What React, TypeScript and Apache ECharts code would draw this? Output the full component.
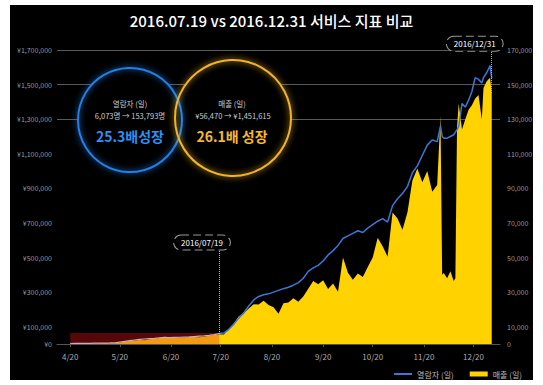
import React, { useEffect, useRef } from 'react';
import * as echarts from 'echarts';

const titleText = '2016.07.19 vs 2016.12.31 서비스 지표 비교';

const dates = [
  '2016-04-20', '2016-04-23', '2016-04-26', '2016-04-29', '2016-05-02', '2016-05-05', '2016-05-08', '2016-05-11',
  '2016-05-14', '2016-05-17', '2016-05-20', '2016-05-23', '2016-05-26', '2016-05-29', '2016-06-01', '2016-06-04',
  '2016-06-07', '2016-06-10', '2016-06-13', '2016-06-16', '2016-06-19', '2016-06-22', '2016-06-25', '2016-06-28',
  '2016-07-01', '2016-07-04', '2016-07-07', '2016-07-10', '2016-07-13', '2016-07-16', '2016-07-19',
  '2016-07-22', '2016-07-25', '2016-07-28', '2016-07-31', '2016-08-03', '2016-08-06', '2016-08-09', '2016-08-12',
  '2016-08-15', '2016-08-18', '2016-08-21', '2016-08-24', '2016-08-27', '2016-08-30', '2016-09-02', '2016-09-05',
  '2016-09-08', '2016-09-11', '2016-09-14', '2016-09-17', '2016-09-20', '2016-09-23', '2016-09-26', '2016-09-29',
  '2016-10-02', '2016-10-05', '2016-10-08', '2016-10-11', '2016-10-14', '2016-10-17', '2016-10-20', '2016-10-23',
  '2016-10-26', '2016-10-29', '2016-11-01', '2016-11-04', '2016-11-07', '2016-11-10', '2016-11-13', '2016-11-16',
  '2016-11-19', '2016-11-22', '2016-11-25', '2016-11-28',
  '2016-11-30', '2016-12-01', '2016-12-02', '2016-12-04', '2016-12-06', '2016-12-08', '2016-12-09', '2016-12-10',
  '2016-12-11', '2016-12-13', '2016-12-15', '2016-12-17', '2016-12-19', '2016-12-21', '2016-12-23', '2016-12-25',
  '2016-12-26', '2016-12-28', '2016-12-30', '2016-12-31',
];

const users = [
  300, 320, 350, 380, 400, 450, 480, 520, 600, 700, 1100, 1500, 1900, 2300, 2700, 2900,
  3100, 3300, 3600, 3800, 3700, 3800, 3900, 4000, 4100, 4300, 4500, 4700, 5000, 5400, 6073,
  6300, 8500, 11500, 15000, 18000, 22000, 25500, 27500, 28500, 29000, 30000, 31000, 32000, 32800, 34000,
  35500, 38000, 42000, 44000, 45500, 48000, 51500, 54000, 57000, 61000, 62500, 64000, 65500, 64500, 67000,
  69000, 71000, 72500, 70500, 80000, 84000, 87000, 91000, 99000, 103000, 109000, 115000, 118000, 117000,
  126000, 120000, 119000, 119000, 120000, 121000, 122500, 124000, 125500, 139000, 137000, 141000, 146000,
  154000, 153000, 151000, 154000, 157000, 161000, 153793,
];

const revenue = [
  2500, 2800, 2600, 3000, 3200, 3100, 3500, 4000, 3800, 4500, 7000, 14000, 17000, 20000, 23000, 22000,
  28000, 30000, 34000, 42000, 36000, 37000, 38000, 36000, 41000, 40000, 39000, 42000, 47000, 52000, 56470,
  55000, 88000, 118000, 160000, 178000, 205000, 230000, 228000, 250000, 225000, 212000, 175000, 235000, 240000,
  265000, 245000, 275000, 320000, 365000, 345000, 368000, 318000, 350000, 302000, 500000, 412000, 372000,
  408000, 388000, 445000, 500000, 615000, 565000, 505000, 760000, 725000, 660000, 760000, 945000, 1015000,
  935000, 1000000, 880000, 920000,
  1320000, 400000, 410000, 380000, 420000, 365000, 380000, 1250000, 1390000, 1240000, 1300000, 1355000,
  1380000, 1420000, 1440000, 1300000, 1480000, 1520000, 1540000, 1451615,
];

const splitDate = '2016-07-19';
const endDate = '2016-12-31';
const markAreaStart = '2016-04-20';
const xMinDate = '2016-04-12';
const xMaxDate = '2017-01-05';
const xTickDates = [
  '2016-04-20', '2016-05-20', '2016-06-20', '2016-07-20', '2016-08-20',
  '2016-09-20', '2016-10-20', '2016-11-20', '2016-12-20',
];
const leftLabelValues = [0, 100000, 300000, 500000, 700000, 900000, 1100000, 1300000, 1500000, 1700000];
const rightLabelValues = [0, 10000, 30000, 50000, 70000, 90000, 110000, 130000, 150000, 170000];
const gridLineValues = [1300000, 1500000, 1700000];

const t = (s: string) => {
  const [y, m, d] = s.split('-').map(Number);
  return new Date(y, m - 1, d).getTime();
};

const FONT = '"Noto Sans CJK KR", "Noto Sans", sans-serif';

export default function App() {
  const ref = useRef<HTMLDivElement>(null);
  useEffect(() => {
    if (!ref.current) return;
    const chart = echarts.init(ref.current, undefined, { renderer: 'svg' });
    const splitT = t(splitDate);
    const pts = (vals: number[]) => dates.map((d, i) => [t(d), vals[i]] as [number, number]);
    const before = (vals: number[]) => pts(vals).filter((p) => p[0] <= splitT);
    const after = (vals: number[]) => pts(vals).filter((p) => p[0] >= splitT);

    const splitColors: string[] = [];
    for (let i = 0; i <= 17; i++) {
      splitColors.push(gridLineValues.includes(i * 100000) ? '#5a5a5a' : 'rgba(0,0,0,0)');
    }
    const xTicks = xTickDates.map(t);

    const option: any = {
      animation: false,
      backgroundColor: '#ffffff',
      textStyle: { fontFamily: FONT },
      title: {
        text: titleText,
        left: 'center',
        top: 8,
        textStyle: { color: '#ffffff', fontSize: 15, fontWeight: 500, fontFamily: FONT },
      },
      grid: { left: 57, right: 43, top: 50, bottom: 41, containLabel: false },
      legend: {
        data: [
          { name: '열람자 (일)', itemStyle: { opacity: 0 } },
          { name: '매출 (일)', icon: 'rect' },
        ],
        right: 16,
        bottom: 2,
        itemWidth: 18,
        itemHeight: 5,
        itemGap: 16,
        textStyle: { color: '#bbbbbb', fontSize: 8, fontFamily: FONT },
      },
      xAxis: {
        type: 'value',
        min: t(xMinDate),
        max: t(xMaxDate),
        axisLine: { lineStyle: { color: '#555555', width: 1 } },
        axisTick: { show: true, customValues: xTicks, length: 3, lineStyle: { color: '#555555' } },
        axisLabel: {
          customValues: xTicks,
          color: '#aaaaaa',
          fontSize: 8,
          margin: 8,
          formatter: (v: number) => {
            const d = new Date(v);
            return d.getMonth() + 1 + '/' + d.getDate();
          },
        },
        splitLine: { show: false },
      },
      yAxis: [
        {
          type: 'value',
          min: 0,
          max: 1700000,
          interval: 100000,
          position: 'left',
          axisLine: { show: false },
          axisTick: { show: false },
          axisLabel: {
            color: '#999999',
            fontSize: 7,
            margin: 5,
            formatter: (v: number) =>
              leftLabelValues.includes(v) ? '¥' + v.toLocaleString('en-US') : '',
          },
          splitLine: { show: true, lineStyle: { color: splitColors, width: 1 } },
        },
        {
          type: 'value',
          min: 0,
          max: 170000,
          interval: 10000,
          position: 'right',
          axisLine: { show: false },
          axisTick: { show: false },
          axisLabel: {
            color: '#999999',
            fontSize: 7,
            margin: 7,
            formatter: (v: number) => (rightLabelValues.includes(v) ? v.toLocaleString('en-US') : ''),
          },
          splitLine: { show: false },
        },
      ],
      series: [
        {
          name: 'area-holder',
          type: 'line',
          yAxisIndex: 1,
          data: before(users),
          symbol: 'none',
          silent: true,
          z: 1,
          lineStyle: { opacity: 0, width: 0 },
          markArea: {
            silent: true,
            itemStyle: { color: '#560707' },
            data: [[{ coord: [t(markAreaStart), 0] }, { coord: [splitT, 6300] }]],
          },
        },
        {
          name: '매출-before',
          type: 'line',
          yAxisIndex: 0,
          data: before(revenue),
          symbol: 'none',
          z: 2,
          itemStyle: { color: '#f39a10' },
          lineStyle: { width: 0, opacity: 0 },
          areaStyle: { color: '#f39a10', opacity: 1 },
        },
        {
          name: '매출 (일)',
          type: 'line',
          yAxisIndex: 0,
          data: after(revenue),
          symbol: 'none',
          z: 2,
          itemStyle: { color: '#ffd200' },
          lineStyle: { width: 0, opacity: 0 },
          areaStyle: { color: '#ffd200', opacity: 1 },
          markLine: {
            silent: true,
            symbol: ['none', 'none'],
            lineStyle: { type: 'dotted', color: '#bbbbbb', width: 1 },
            label: {
              show: true,
              position: 'end',
              formatter: '{b}',
              distance: 1,
              offset: [-17, 0],
              color: '#ffffff',
              fontSize: 8,
              fontFamily: FONT,
              backgroundColor: '#000000',
              borderColor: '#999999',
              borderType: 'dashed',
              borderWidth: 1,
              borderRadius: 8,
              padding: [3, 7],
            },
            data: [
              [{ name: '2016/07/19', coord: [splitT, 0] }, { coord: [splitT, 540000] }],
              [{ name: '2016/12/31', coord: [t(endDate), 1451615] }, { coord: [t(endDate), 1690000] }],
            ],
          },
        },
        {
          name: '열람자-before',
          type: 'line',
          yAxisIndex: 1,
          data: before(users),
          symbol: 'none',
          z: 4,
          itemStyle: { color: '#c6aebd' },
          lineStyle: { width: 1.2, color: '#c6aebd' },
        },
        {
          name: '열람자 (일)',
          type: 'line',
          yAxisIndex: 1,
          data: after(users),
          symbol: 'none',
          z: 4,
          itemStyle: { color: '#3a78d8' },
          lineStyle: { width: 1.5, color: '#3a78d8' },
        },
      ],
      graphic: {
        elements: [
          { type: 'rect', z: -10, silent: true, shape: { x: 10, y: 5, width: 523, height: 375 }, style: { fill: '#000000' } },
          { type: 'circle', z: 10, shape: { cx: 130, cy: 120, r: 52 }, style: { fill: '#000000' } },
          { type: 'circle', z: 10, shape: { cx: 233, cy: 118, r: 58 }, style: { fill: '#000000' } },
          {
            type: 'circle', z: 11, shape: { cx: 130, cy: 120, r: 52 },
            style: { fill: 'rgba(0,0,0,0)', stroke: '#2180ea', lineWidth: 2, shadowBlur: 6, shadowColor: '#2180ea' },
          },
          {
            type: 'circle', z: 11, shape: { cx: 233, cy: 118, r: 58 },
            style: { fill: 'rgba(0,0,0,0)', stroke: '#f2b428', lineWidth: 2, shadowBlur: 6, shadowColor: '#f2b428' },
          },
          { type: 'text', z: 12, style: { text: '열람자 (일)', x: 130, y: 103, fill: '#cccccc', font: '7.5px ' + FONT, textAlign: 'center', textVerticalAlign: 'middle' } },
          { type: 'text', z: 12, style: { text: '6,073명 → 153,793명', x: 130, y: 115, fill: '#cccccc', font: '7.5px ' + FONT, textAlign: 'center', textVerticalAlign: 'middle' } },
          { type: 'text', z: 12, style: { text: '25.3배성장', x: 130, y: 136, fill: '#2f8ff2', font: 'bold 14px ' + FONT, textAlign: 'center', textVerticalAlign: 'middle' } },
          { type: 'text', z: 12, style: { text: '매출 (일)', x: 232, y: 103, fill: '#cccccc', font: '7.5px ' + FONT, textAlign: 'center', textVerticalAlign: 'middle' } },
          { type: 'text', z: 12, style: { text: '¥56,470 → ¥1,451,615', x: 233, y: 115, fill: '#cccccc', font: '7.5px ' + FONT, textAlign: 'center', textVerticalAlign: 'middle' } },
          { type: 'text', z: 12, style: { text: '26.1배 성장', x: 232, y: 136, fill: '#f5b82e', font: 'bold 14px ' + FONT, textAlign: 'center', textVerticalAlign: 'middle' } },
        ],
      },
    };
    chart.setOption(option);
    return () => chart.dispose();
  }, []);

  return (
    <div style={{ position: 'fixed', left: 0, top: 0, width: 543, height: 385 }}>
      <div ref={ref} style={{ width: 543, height: 385 }} />
    </div>
  );
}
